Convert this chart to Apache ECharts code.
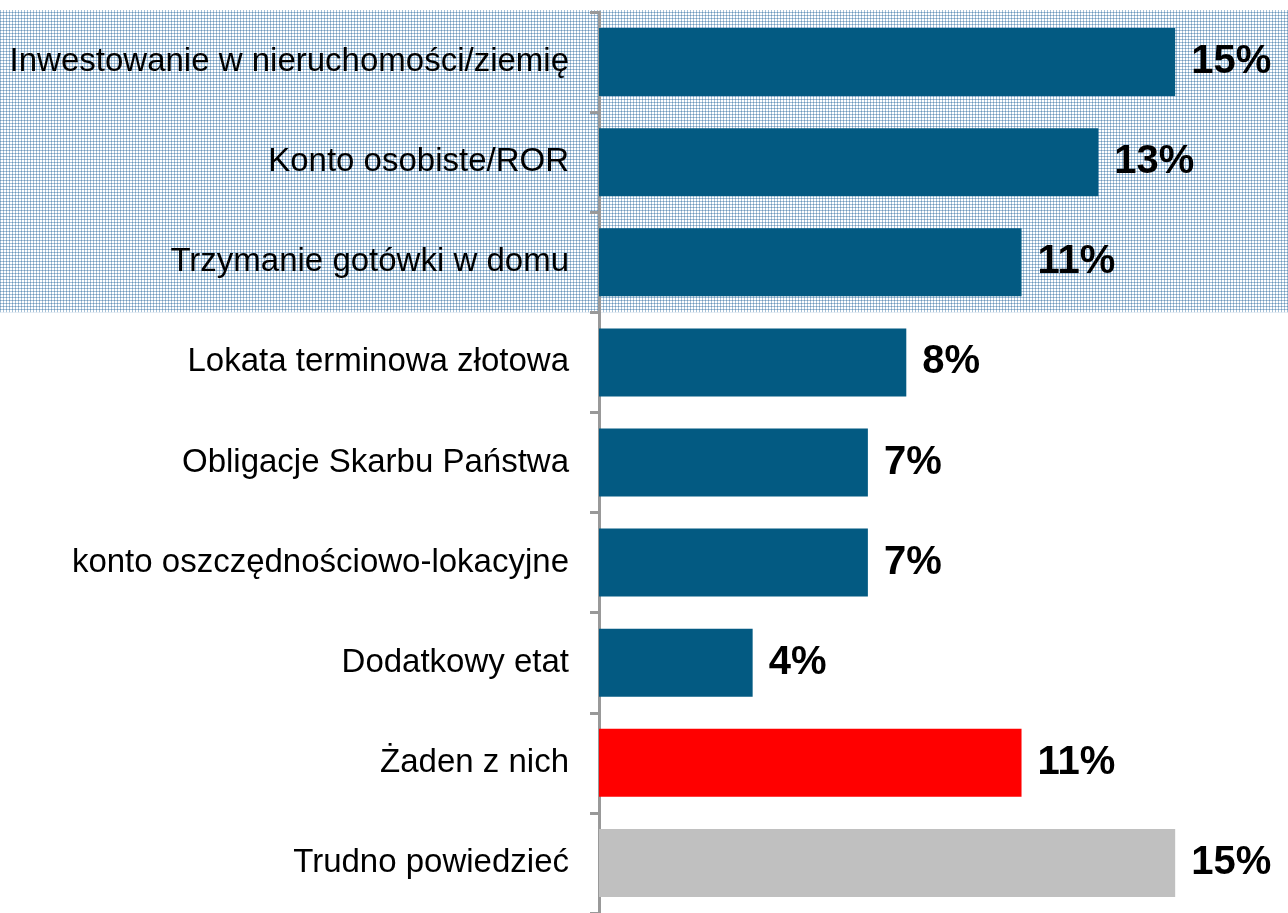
<!DOCTYPE html>
<html>
<head>
<meta charset="utf-8">
<script src="https://cdn.jsdelivr.net/npm/echarts@6/dist/echarts.min.js"></script>
<style>
html,body{margin:0;padding:0;background:#fff;}
#chart{width:1288px;height:913px;}
</style>
</head>
<body>
<div id="chart"></div>
<script>
const categories = [
  'Inwestowanie w nieruchomości/ziemię',
  'Konto osobiste/ROR',
  'Trzymanie gotówki w domu',
  'Lokata terminowa złotowa',
  'Obligacje Skarbu Państwa',
  'konto oszczędnościowo-lokacyjne',
  'Dodatkowy etat',
  'Żaden z nich',
  'Trudno powiedzieć'
];
const values = [15, 13, 11, 8, 7, 7, 4, 11, 15];
const highlightedCount = 3; // top categories with shaded background

const BLUE = '#035a82', RED = '#ff0000', GRAY = '#c0c0c0';
function barColor(name) {
  if (name === 'Żaden z nich') return RED;
  if (name === 'Trudno powiedzieć') return GRAY;
  return BLUE;
}

// dotted plaid pattern
const tile = document.createElement('canvas');
tile.width = 3; tile.height = 3;
const tc = tile.getContext('2d');
tc.fillStyle = '#ffffff'; tc.fillRect(0,0,3,3);
tc.fillStyle = '#a6c2d9'; tc.fillRect(0,0,3,1); tc.fillRect(0,0,1,3);
tc.fillStyle = '#6f98bb'; tc.fillRect(0,0,1,1);

const FONT = "'Liberation Sans', Arial, sans-serif";
const chart = echarts.init(document.getElementById('chart'));
const GRID_TOP = 12, GRID_BOTTOM = 0;
chart.setOption({
  animation: false,
  grid: { left: 599, right: 36, top: GRID_TOP, bottom: GRID_BOTTOM, containLabel: false },
  xAxis: { type: 'value', min: 0, max: 17, show: false },
  yAxis: {
    type: 'category', data: categories, inverse: true, offset: 2,
    axisLine: { show: true, lineStyle: { color: '#999999', width: 3 } },
    axisTick: { show: true, length: 9, lineStyle: { color: '#999999', width: 3 } },
    axisLabel: { fontFamily: FONT, fontSize: 33, color: '#000', margin: 28 },
    splitLine: { show: false }
  },
  series: [{
    type: 'bar',
    data: values.map((v, i) => ({ value: v, itemStyle: { color: barColor(categories[i]) } })),
    barWidth: 68,
    label: {
      show: true, position: 'right', distance: 16,
      formatter: '{c}%', fontFamily: FONT, fontSize: 40, fontWeight: 'bold', color: '#000'
    }
  }]
});

// shaded band behind the top categories
const h = 913 - GRID_TOP - GRID_BOTTOM;
const band = h / categories.length;
const y0 = chart.convertToPixel({ yAxisIndex: 0 }, categories[0]) - band / 2;
const y1 = chart.convertToPixel({ yAxisIndex: 0 }, categories[highlightedCount - 1]) + band / 2;
chart.setOption({
  graphic: [{
    type: 'rect', z: -10, silent: true,
    shape: { x: 0, y: y0 - 2, width: 1288, height: y1 - y0 + 2 },
    style: { fill: { image: tile, repeat: 'repeat' } }
  }]
});
</script>
</body>
</html>
